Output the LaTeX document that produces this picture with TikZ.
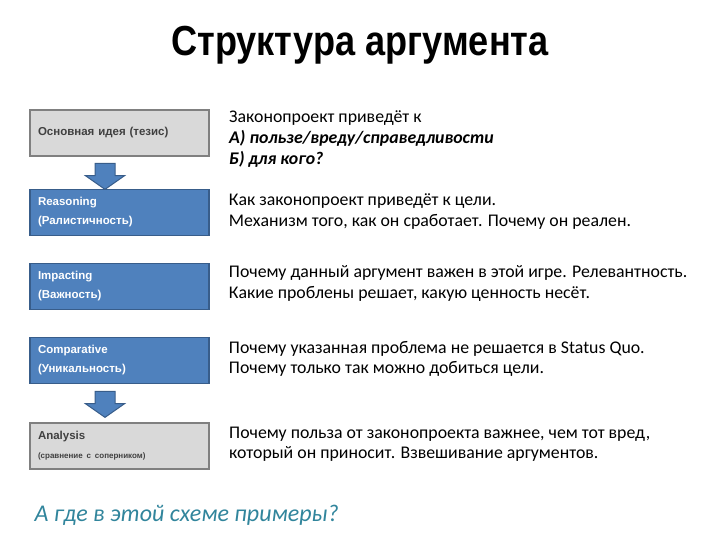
\documentclass[tikz,border=0pt]{standalone}
\usepackage{fontspec}
\setmainfont{Carlito}
\newfontfamily\boxfont{Liberation Sans}
\usetikzlibrary{shapes.arrows, positioning}
\definecolor{boxBlue}{HTML}{4F81BD}
\definecolor{boxBlueLine}{HTML}{385D8A}
\definecolor{boxGray}{HTML}{D9D9D9}
\definecolor{boxGrayLine}{HTML}{808080}
\definecolor{askTeal}{HTML}{31859C}
\tikzstyle{blueNode} = [rectangle, minimum width=179pt, minimum height=46pt, text width=163pt, inner xsep=8pt, align=left, fill=boxBlue, draw=boxBlueLine, line width=1.5pt, text=white, font=\boxfont\bfseries\fontsize{11.5}{19}\selectfont]
\tikzstyle{grayNode} = [blueNode, fill=boxGray, draw=boxGrayLine, line width=2pt, text=black!75]
\tikzstyle{txtNode} = [anchor=north west, inner sep=0pt, align=left, font=\fontsize{17.8}{20.8}\selectfont]
\tikzstyle{downArrow} = [single arrow, rotate=-90, minimum height=26pt, minimum width=38pt, inner xsep=0pt, inner ysep=9.5pt, single arrow head extend=9.5pt, single arrow tip angle=110, fill=boxBlue, draw=boxBlueLine, line width=1pt]

\begin{document}
\begin{tikzpicture}[x=1pt, y=1pt, node distance=74pt]
    \useasboundingbox (0,0) rectangle (720,-540);
    \node (title) [font=\boxfont\bfseries\fontsize{42}{42}\selectfont, xscale=0.86, transform shape] at (360,-45) {Структура аргумента};

    \node (b1) [grayNode] at (119.5,-133) {Основная идея (тезис)};
    \node (b2) [blueNode, below of=b1, yshift=-5.5pt] {Reasoning\\(Ралистичность)};
    \node (b3) [blueNode, below of=b2] {Impacting\\(Важность)};
    \node (b4) [blueNode, below of=b3] {Comparative\\(Уникальность)};
    \node (b5) [grayNode, below of=b4, yshift=-11pt] {Analysis\\{\fontsize{8}{12}\selectfont(сравнение с соперником)}};

    \path (b1.south) -- (b2.north) node (a1) [xshift=-14.5pt, midway, downArrow] {};
    \path (b4.south) -- (b5.north) node (a2) [xshift=-14.5pt, yshift=2pt, midway, downArrow] {};

    \node (t1) [txtNode] at ([xshift=19pt, yshift=-2pt]b1.north east) {Законопроект приведёт к\\\textbf{\itshape А) пользе/вреду/справедливости}\\\textbf{\itshape Б) для кого?}};
    \node (t2) [txtNode] at ([xshift=19pt, yshift=-5pt]b2.north east) {Как законопроект приведёт к цели.\\Механизм того, как он сработает. Почему он реален.};
    \node (t3) [txtNode] at ([xshift=19pt, yshift=-3pt]b3.north east) {Почему данный аргумент важен в этой игре. Релевантность.\\Какие проблены решает, какую ценность несёт.};
    \node (t4) [txtNode] at ([xshift=19pt, yshift=-4pt]b4.north east) {Почему указанная проблема не решается в Status Quo.\\Почему только так можно добиться цели.};
    \node (t5) [txtNode] at ([xshift=19pt, yshift=-5pt]b5.north east) {Почему польза от законопроекта важнее, чем тот вред,\\который он приносит. Взвешивание аргументов.};

    \node (ask) [anchor=west, text=askTeal, font=\itshape\fontsize{24}{24}\selectfont] at (31,-515) {А где в этой схеме примеры?};
\end{tikzpicture}
\end{document}
